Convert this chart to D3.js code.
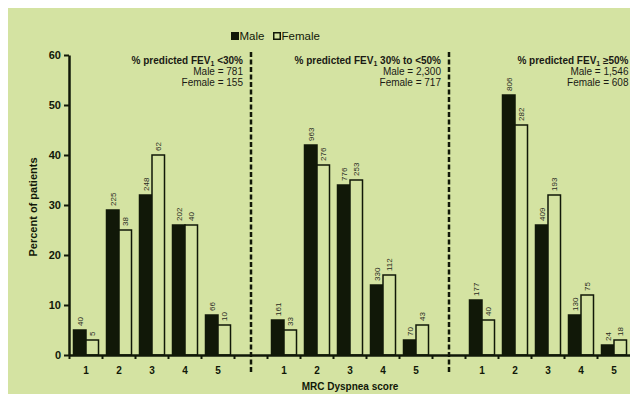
<!DOCTYPE html>
<html>
<head>
<meta charset="utf-8">
<script src="https://cdn.jsdelivr.net/npm/d3@7"></script>
<style>
  html, body { margin: 0; padding: 0; background: #ffffff; }
  svg { display: block; font-family: "Liberation Sans", Arial, sans-serif; }
</style>
</head>
<body>
<svg id="chart" width="630" height="396"></svg>
<script>
// MRC dyspnea score distribution by sex, split into three FEV1 strata
const scores = ["1", "2", "3", "4", "5"];
const panels = ["<30%", "30% to <50%", "≥50%"];
const maleN = ["781", "2,300", "1,546"];
const femaleN = ["155", "717", "608"];

// percent of patients
const malePct = [
  [5, 29, 32, 26, 8],
  [7, 42, 34, 14, 3],
  [11, 52, 26, 8, 2]
];
const femalePct = [
  [3, 25, 40, 26, 6],
  [5, 38, 35, 16, 6],
  [7, 46, 32, 12, 3]
];
// patient counts shown above each bar
const maleCount = [
  [40, 225, 248, 202, 66],
  [161, 963, 776, 330, 70],
  [177, 806, 409, 130, 24]
];
const femaleCount = [
  [5, 38, 62, 40, 10],
  [33, 276, 253, 112, 43],
  [40, 282, 193, 75, 18]
];
const yTicks = [0, 10, 20, 30, 40, 50, 60];
const sexes = ["Male", "Female"];

const svg = d3.select("#chart");
const bg = "#d4e3a2";
const ink = "#111808";

svg.append("rect").attr("x", 8).attr("y", 8).attr("width", 622).attr("height", 386).attr("fill", bg);

// one slot per score plus a spacer slot after each panel
const slots = [];
panels.forEach((p, pi) => {
  scores.forEach(s => slots.push({ key: pi + "-" + s, label: s, panel: pi, score: s }));
  slots.push({ key: "gap" + pi, label: "", panel: pi, gap: true });
});
const slotKeys = slots.slice(0, slots.length - 1).map(d => d.key);

const x = d3.scaleBand().domain(slotKeys).range([69.5, 630.5]).padding(0);
const step = x.step();
const xSex = d3.scaleBand().domain(sexes).range([step / 2 - 12.5, step / 2 + 12.5]).padding(0);
const y = d3.scaleLinear().domain([0, 60]).range([355, 55]);

// bars
const barData = [];
panels.forEach((p, pi) => {
  scores.forEach((s, si) => {
    barData.push({ key: pi + "-" + s, sex: "Male", v: malePct[pi][si], n: maleCount[pi][si] });
    barData.push({ key: pi + "-" + s, sex: "Female", v: femalePct[pi][si], n: femaleCount[pi][si] });
  });
});

const bars = svg.append("g");
bars.selectAll("rect").data(barData).join("rect")
  .attr("x", d => x(d.key) + xSex(d.sex))
  .attr("y", d => y(d.v))
  .attr("width", xSex.bandwidth())
  .attr("height", d => y(0) - y(d.v))
  .attr("fill", d => d.sex === "Male" ? ink : bg)
  .attr("stroke", ink)
  .attr("stroke-width", 1.5);

bars.selectAll("text").data(barData).join("text")
  .attr("transform", d => `translate(${x(d.key) + xSex(d.sex) + xSex.bandwidth() / 2},${y(d.v) - 4}) rotate(-90)`)
  .attr("dy", "0.35em")
  .attr("font-size", 8)
  .attr("fill", "#2a2a22")
  .text(d => d.n);

// y axis
const yAxis = svg.append("g").attr("transform", "translate(69,0)")
  .call(d3.axisLeft(y).tickValues(yTicks).tickSize(5).tickSizeOuter(0));
yAxis.select(".domain").attr("stroke", ink).attr("stroke-width", 2.5);
yAxis.selectAll(".tick line").attr("stroke", ink).attr("stroke-width", 2);
yAxis.selectAll(".tick text").attr("font-size", 11).attr("font-weight", "bold").attr("fill", ink)
  .attr("font-family", "Liberation Sans, Arial, sans-serif").attr("x", -8);

// x axis: labels under each score, tick marks at slot boundaries
const xAxis = svg.append("g").attr("transform", "translate(0,355)")
  .call(d3.axisBottom(x).tickSize(0).tickSizeOuter(0)
    .tickFormat(k => (slots.find(s => s.key === k) || {}).label || ""));
xAxis.select(".domain").attr("stroke", ink).attr("stroke-width", 2.5);
xAxis.selectAll(".tick text").attr("font-size", 10).attr("font-weight", "bold").attr("fill", ink)
  .attr("font-family", "Liberation Sans, Arial, sans-serif").attr("dy", "1.55em");
xAxis.selectAll("line.bound").data(slotKeys).join("line").attr("class", "bound")
  .attr("x1", k => x(k)).attr("x2", k => x(k))
  .attr("y1", 0).attr("y2", 4)
  .attr("stroke", ink).attr("stroke-width", 2);

// dashed panel separators
const gaps = slots.filter(s => s.gap && x(s.key) !== undefined);
svg.append("g").selectAll("line").data(gaps).join("line")
  .attr("x1", d => x(d.key) + step / 2).attr("x2", d => x(d.key) + step / 2)
  .attr("y1", 52).attr("y2", 373)
  .attr("stroke", ink).attr("stroke-width", 2.5)
  .attr("stroke-dasharray", "5,2.5");

// panel headers, right-aligned just inside each panel's right edge
const hdr = svg.append("g").attr("font-size", 10).attr("fill", "#1a1a14").attr("text-anchor", "end");
panels.forEach((p, pi) => {
  const gx = pi < 2 ? x.range()[0] + (pi * 6 + 5) * step + step / 2 - 8 : 628.5;
  const t = hdr.append("text").attr("x", gx).attr("y", 64).attr("font-weight", "bold");
  t.append("tspan").text("% predicted FEV");
  t.append("tspan").attr("font-size", 7).attr("dy", 2).text("1");
  t.append("tspan").attr("dy", -2).text(" " + p);
  hdr.append("text").attr("x", gx).attr("y", 75).text("Male = " + maleN[pi]);
  hdr.append("text").attr("x", gx).attr("y", 86).text("Female = " + femaleN[pi]);
});

// axis titles
svg.append("text").attr("transform", "translate(37,207) rotate(-90)")
  .attr("text-anchor", "middle").attr("font-size", 11).attr("font-weight", "bold").attr("fill", ink)
  .text("Percent of patients");
svg.append("text").attr("x", 350).attr("y", 390)
  .attr("text-anchor", "middle").attr("font-size", 10).attr("font-weight", "bold").attr("fill", ink)
  .text("MRC Dyspnea score");

// legend
const leg = svg.append("g").attr("font-size", 11.5).attr("fill", ink);
const legX = [231, 273];
sexes.forEach((s, i) => {
  leg.append("rect").attr("x", legX[i] + 0.75).attr("y", 32.75).attr("width", 6.5).attr("height", 6.5)
    .attr("fill", s === "Male" ? ink : bg).attr("stroke", ink).attr("stroke-width", 1.5);
  leg.append("text").attr("x", legX[i] + 8.5).attr("y", 40).text(s);
});
</script>
</body>
</html>
